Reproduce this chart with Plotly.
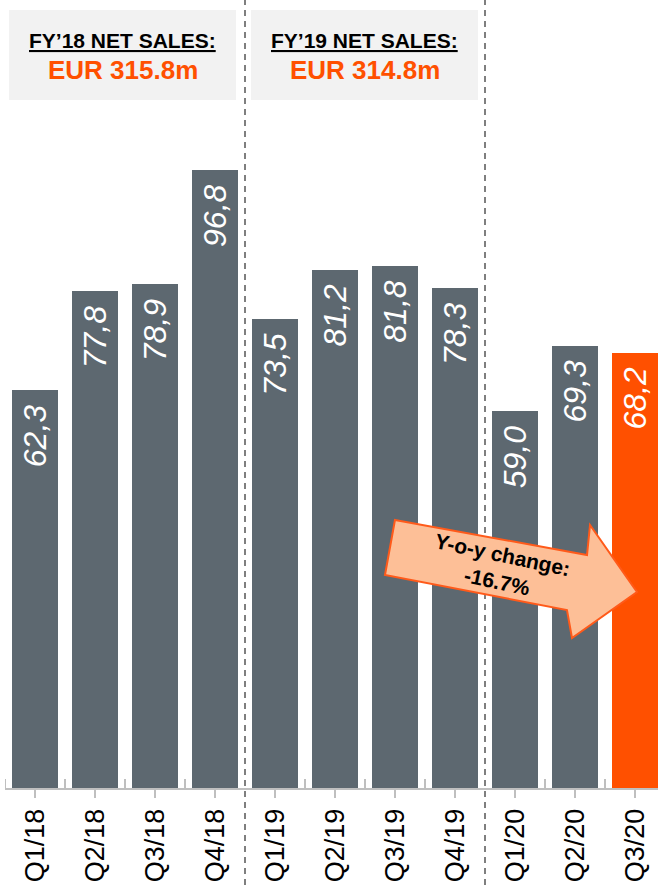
import plotly.graph_objects as go

quarters = ["Q1/18", "Q2/18", "Q3/18", "Q4/18", "Q1/19", "Q2/19", "Q3/19", "Q4/19", "Q1/20", "Q2/20", "Q3/20"]
net_sales = [62.3, 77.8, 78.9, 96.8, 73.5, 81.2, 81.8, 78.3, 59.0, 69.3, 68.2]
fy_titles = ["FY\u201918 NET SALES:", "FY\u201919 NET SALES:"]
fy_totals = ["EUR 315.8m", "EUR 314.8m"]
yoy_text = "Y-o-y change:<br>-16.7%"

GRAY = "#5d6870"
ORANGE = "#ff5000"
FONT = "Liberation Sans, Arial, sans-serif"

W, H = 658, 885
ML, MR, MT, MB = 5, 0, 0, 97
PW, PH = W - ML - MR, H - MT - MB
px_per_cat = 60.0
x0 = -0.5
x1 = x0 + PW / px_per_cat
ymax = PH / 6.385

colors = [GRAY] * (len(quarters) - 1) + [ORANGE]
idx = list(range(len(quarters)))

fig = go.Figure()
fig.add_trace(go.Bar(
    x=idx, y=net_sales, marker=dict(color=colors, line=dict(width=0)),
    width=0.78, hoverinfo="skip", showlegend=False,
))

def px2paper(px, py):
    return (px - ML) / PW, 1 - (py - MT) / PH

shapes = []
# header boxes
for (bx0, bx1) in [(9, 236), (251, 478)]:
    a, yb = px2paper(bx0, 100)
    b, yt = px2paper(bx1, 10)
    shapes.append(dict(type="rect", xref="paper", yref="paper", x0=a, x1=b, y0=yb, y1=yt,
                       fillcolor="#f2f2f2", line=dict(width=0), layer="below"))
# dashed separators
for xb in [3.5, 7.5]:
    shapes.append(dict(type="line", xref="x", yref="paper", x0=xb, x1=xb, y0=-MB / PH, y1=1,
                       line=dict(color="#7f7f7f", width=2, dash="6px,5px"), layer="above"))
# tick marks above axis
for k in range(len(quarters)):
    xb = k - 0.5
    if xb in (3.5, 7.5):
        continue
    shapes.append(dict(type="line", xref="x", yref="y", ysizemode="pixel", yanchor=0,
                       x0=xb, x1=xb, y0=0, y1=9, line=dict(color="#bfbfbf", width=2)))
# arrow
pts = [(395, 520), (587, 555), (590, 525), (637, 592), (572, 638), (567, 610), (385, 575)]
pp = [px2paper(*p) for p in pts]
path = "M " + " L ".join(f"{a:.4f},{b:.4f}" for a, b in pp) + " Z"
shapes.append(dict(type="path", xref="paper", yref="paper", path=path,
                   fillcolor="#fdbf97", line=dict(color="#ff5a1a", width=2), layer="above"))

annotations = []
# bar value labels
for i, v in enumerate(net_sales):
    annotations.append(dict(
        x=i, y=v, xref="x", yref="y", text=f"{v:.1f}".replace(".", ","),
        showarrow=False, textangle=-90, xanchor="center", yanchor="top", yshift=-13,
        font=dict(family=FONT, size=32, color="white", style="italic"),
    ))
# header texts
for cx, t1, t2 in [(122.5, fy_titles[0], fy_totals[0]), (364.5, fy_titles[1], fy_totals[1])]:
    a, ya = px2paper(cx, 41)
    annotations.append(dict(x=a, y=ya, xref="paper", yref="paper", text=f"<b><u>{t1}</u></b>",
                            showarrow=False, xanchor="center", yanchor="middle",
                            font=dict(family=FONT, size=21, color="black")))
    a, yb = px2paper(cx, 70)
    annotations.append(dict(x=a, y=yb, xref="paper", yref="paper", text=f"<b>{t2}</b>",
                            showarrow=False, xanchor="center", yanchor="middle",
                            font=dict(family=FONT, size=26, color=ORANGE)))
# arrow text
a, b = px2paper(500, 568)
annotations.append(dict(x=a, y=b, xref="paper", yref="paper", text=f"<b>{yoy_text}</b>",
                        showarrow=False, textangle=12, xanchor="center", yanchor="middle",
                        font=dict(family=FONT, size=21, color="black")))

fig.update_layout(
    width=W, height=H, margin=dict(l=ML, r=MR, t=MT, b=MB, pad=0),
    paper_bgcolor="white", plot_bgcolor="white",
    shapes=shapes, annotations=annotations, bargap=0,
    xaxis=dict(range=[x0, x1], tickmode="array", tickvals=idx, ticktext=quarters,
               tickangle=-90, tickfont=dict(family=FONT, size=27, color="black"),
               showline=True, linecolor="#bfbfbf", linewidth=2, ticks="outside",
               ticklen=8, tickwidth=2, tickcolor="#bfbfbf", showgrid=False, zeroline=False,
               fixedrange=True),
    yaxis=dict(range=[0, ymax], visible=False, fixedrange=True),
)
fig.write_html("out.html", config={"displayModeBar": False},
               post_script="document.body.style.margin='0';document.body.style.overflow='hidden';")
